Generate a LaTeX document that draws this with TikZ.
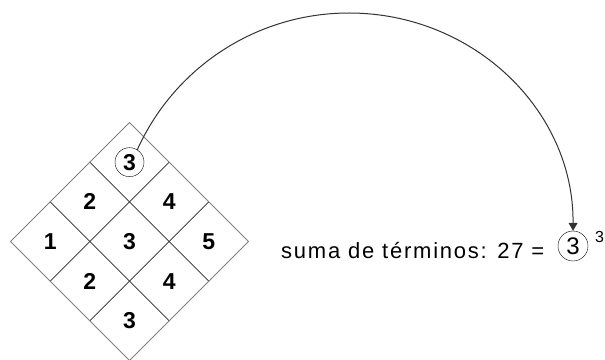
\documentclass[tikz,border=0pt]{standalone}
\usepackage{fontspec}
\setmainfont{Liberation Sans}
\newfontfamily\textoancho[LetterSpace=8]{Liberation Sans}
\usetikzlibrary{arrows.meta,calc}
\begin{document}
\begin{tikzpicture}[x=1pt, y=1pt, line cap=round, line join=round,
  numero/.style={font=\fontsize{23}{27}\selectfont\bfseries, inner sep=0pt},
  circulo/.style={draw, circle, inner sep=0pt, minimum size=29pt},
  borde/.style={draw=gray, line width=1pt},
  rejilla/.style={draw=black!85, line width=0.8pt},
  flecha/.style={draw=black!80, line width=1pt, -{Triangle[width=9pt,length=8pt]}}]
\useasboundingbox (0,0) rectangle (605,359);
% vertices del rombo
\coordinate (T) at (129.5,236.5);
\coordinate (R) at (248.5,117.5);
\coordinate (B) at (129.5,-1.5);
\coordinate (L) at (10.5,117.5);
% lineas interiores
\foreach \k in {1,2} {
  \draw[rejilla] ($(T)!\k/3!(L)$) -- ($(R)!\k/3!(B)$);
  \draw[rejilla] ($(T)!\k/3!(R)$) -- ($(L)!\k/3!(B)$);
}
% borde
\draw[borde] (T) -- (R) -- (B) -- (L) -- cycle;
% numeros de las casillas
\node[numero, circulo] (tres) at ({129.5}, {236.5-39.67}) {3};
\foreach \i/\j/\n in {0/1/2, 1/0/4, 0/2/1, 1/1/3, 2/0/5, 1/2/2, 2/1/4, 2/2/3}
  \node[numero] (n\i\j) at ({129.5+(\i-\j)*39.67}, {236.5-(\i+\j+1)*39.67}) {\n};
% suma y cubo
\node[anchor=base west, inner sep=0pt, font=\fontsize{22}{27}\selectfont\textoancho] (suma) at (281,100) {suma de términos: 27 =};
\node[circulo, minimum size=30pt, font=\fontsize{24}{28}\selectfont] (cubo) at (573,113) {3};
\node[anchor=base west, inner sep=0pt, font=\fontsize{16}{19}\selectfont] (exp) at (595,116) {3};
% arco
\coordinate (cima) at (349,346);
\draw[flecha] (tres.58) .. controls (174.9,292.4) and (257.3,346) .. (cima)
  .. controls (473.3,346) and (574,248.8) .. (cubo.north);
\end{tikzpicture}
\end{document}
